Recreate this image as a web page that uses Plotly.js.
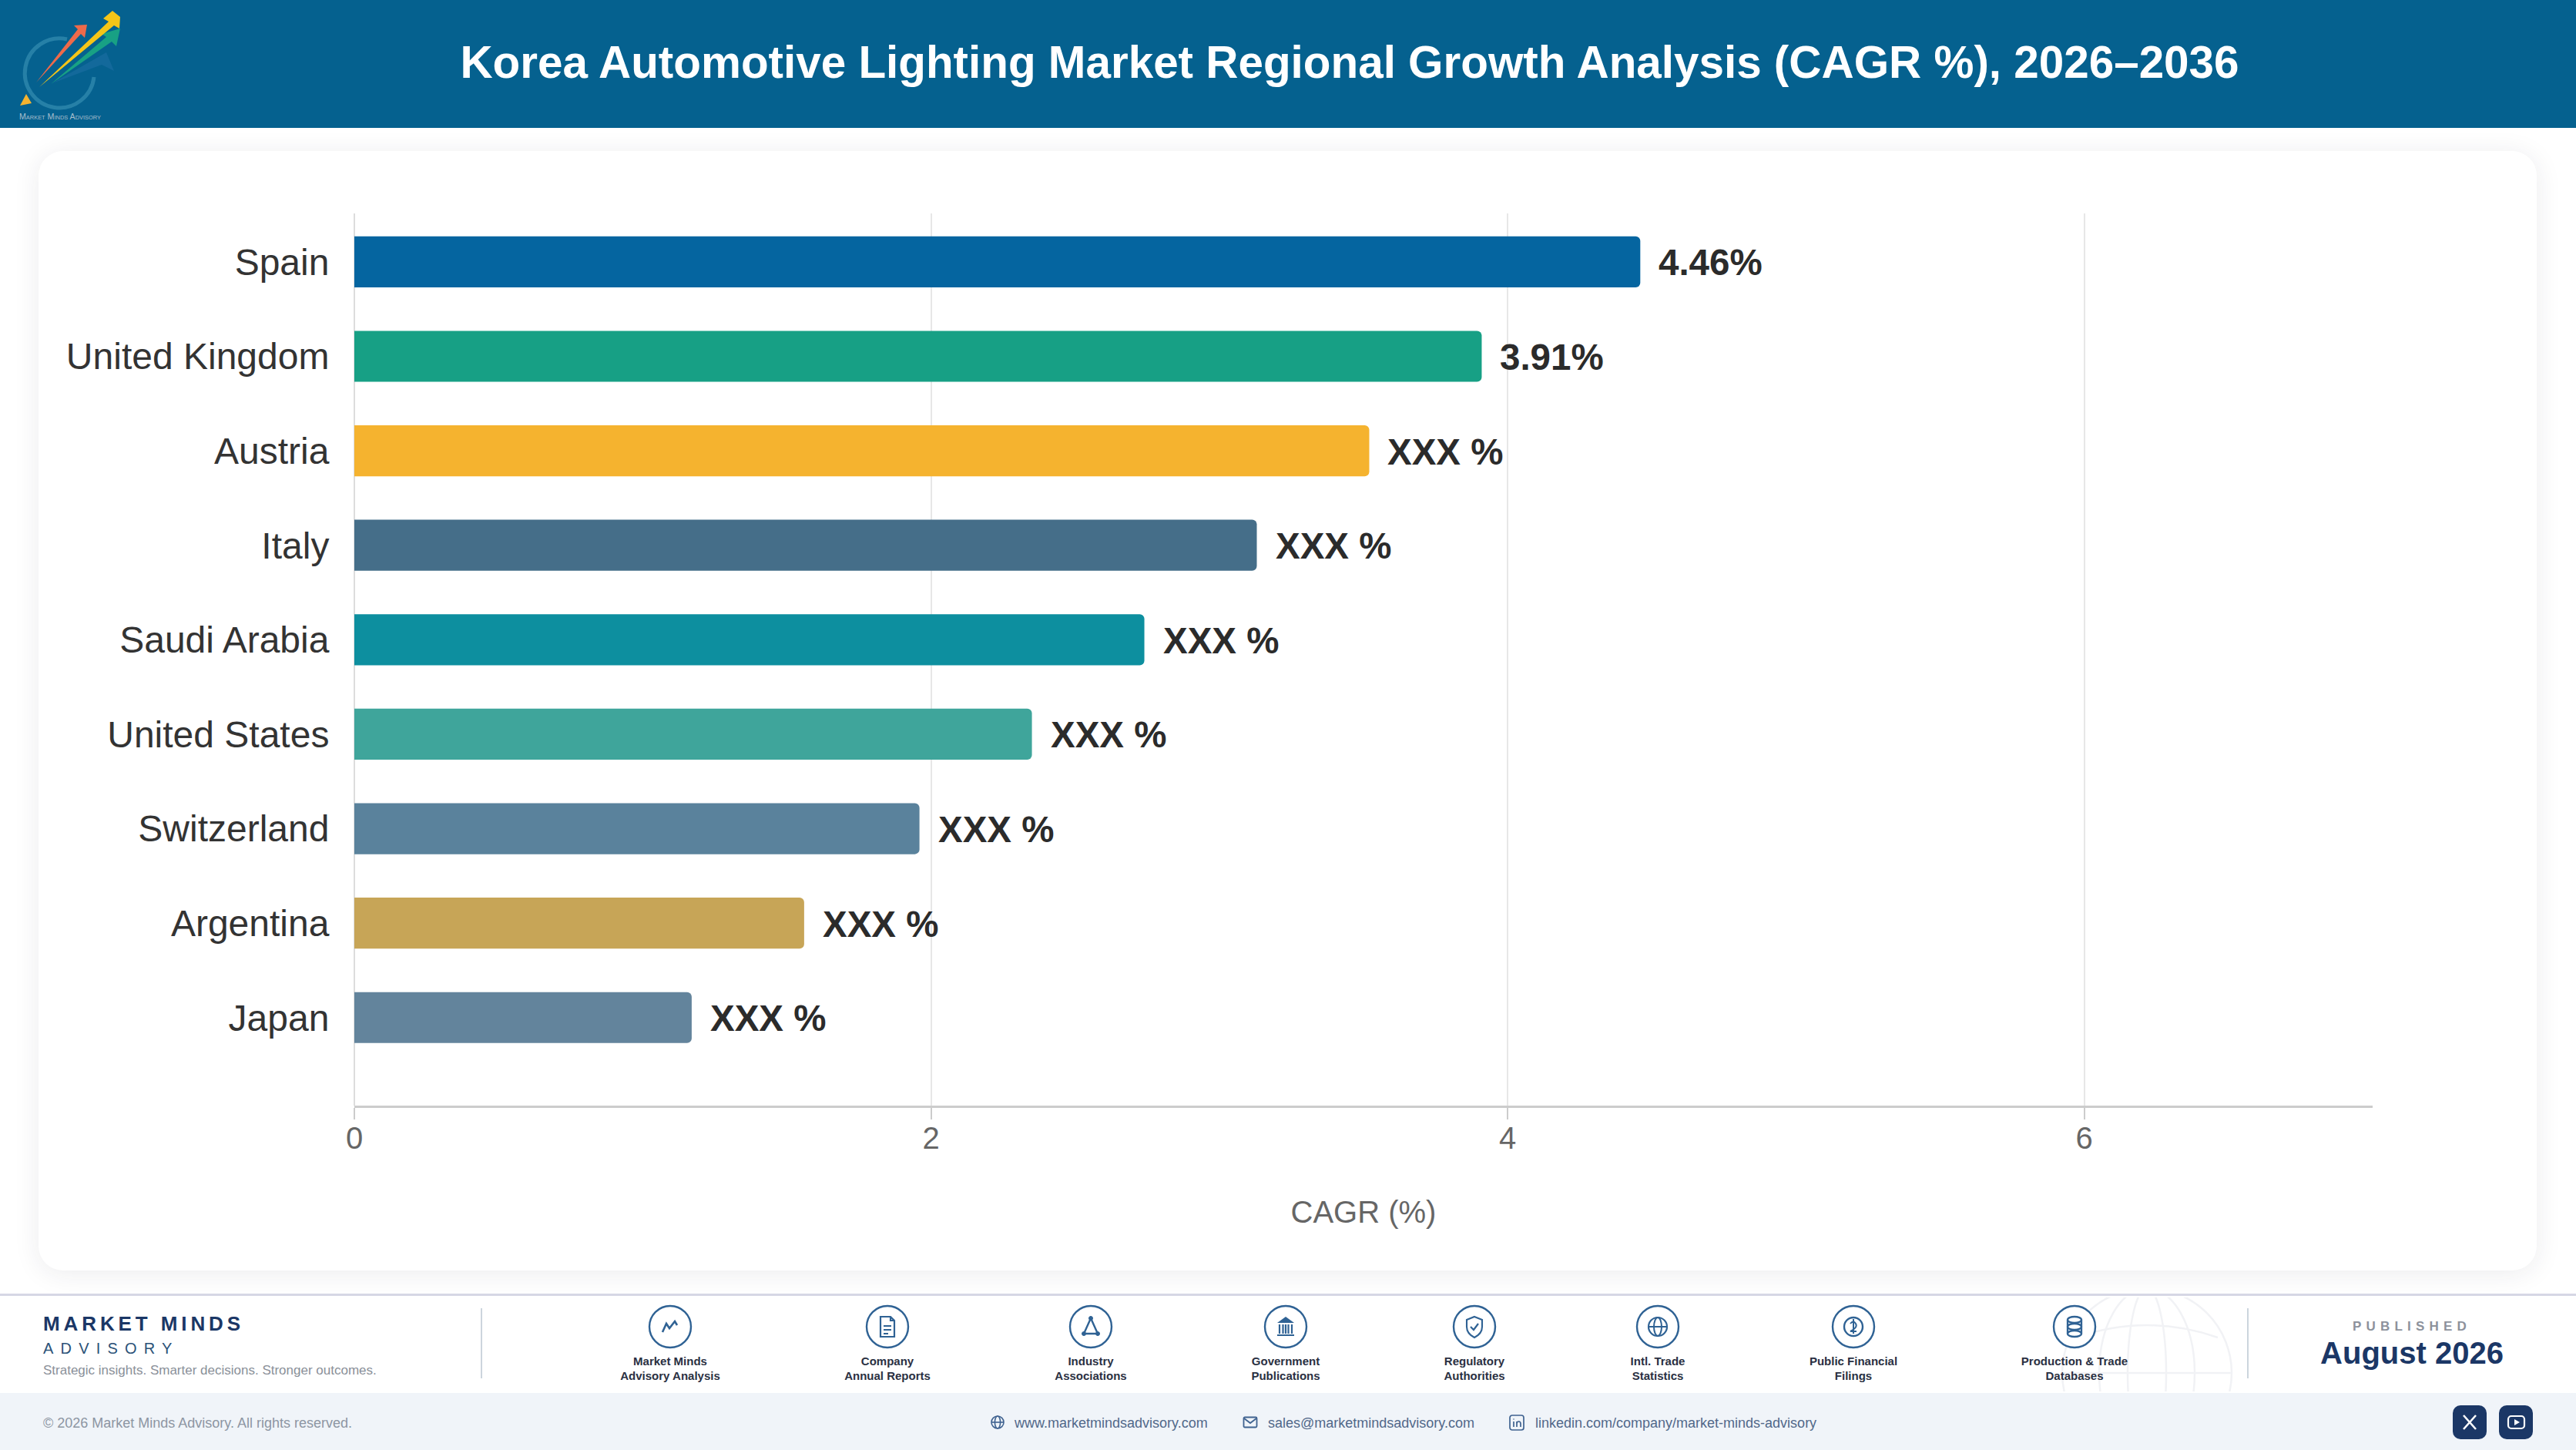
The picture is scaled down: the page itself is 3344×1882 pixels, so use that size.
<!DOCTYPE html>
<html><head><meta charset="utf-8">
<script src="https://cdn.plot.ly/plotly-3.0.1.min.js"></script>
<style>
html,body{margin:0;padding:0;background:#fff;width:3344px;height:1882px;overflow:hidden;font-family:"Liberation Sans",Arial,sans-serif}
.abs{position:absolute}
#head{left:0;top:0;width:3344px;height:166px;background:#05618f}
#card{left:50px;top:196px;width:3243px;height:1453px;background:#fff;border-radius:32px;box-shadow:0 4px 34px rgba(30,40,60,.085)}
#band{left:0;top:1679px;width:3344px;height:126px;background:#fff;border-top:3px solid #d6d7e5;border-bottom:3px solid #d6d7e5}
#foot{left:0;top:1808px;width:3344px;height:74px;background:#f0f4f9}
.t{position:absolute;white-space:nowrap;line-height:1}
.c{transform:translateX(-50%);text-align:center}
.srcl{font-weight:700;font-size:15px;color:#2a3042;line-height:18.5px;white-space:nowrap;position:absolute;transform:translateX(-50%);text-align:center;top:1758px}
.ic{position:absolute;top:1693px;width:58px;height:58px;transform:translateX(-50%)}
.div{position:absolute;width:2px;top:1698px;height:91px;background:#ccd5dd}
#plot{left:0;top:0;width:3344px;height:1882px}
</style></head><body>
<div id="head" class="abs"></div>
<div id="card" class="abs"></div>
<div id="band" class="abs"></div>
<div id="foot" class="abs"></div>
<svg class="abs" style="left:0;top:0" width="180" height="166" viewBox="0 0 180 166">
 <path d="M87 51 A45 45 0 1 0 122 100" fill="none" stroke="#2d86ab" stroke-width="5" opacity=".85"/>
 <polygon points="68,108 138,68 148,92 132,84" fill="#1c6ea4" opacity=".6"/>
 <polygon points="66,109 138,48 132,44 156,37 151,60 145,54" fill="#18a184"/>
 <polygon points="51,113 141,28 134,24 146,14 156,22 155,37 148,33" fill="#f5c518"/>
 <polygon points="47,107 101,38 96,33 113,32 110,49 105,44" fill="#ee6a4a"/>
 <polygon points="34,122 41,134 26,137" fill="#f5b32f"/>
 <text x="25" y="155" font-size="10" fill="#a9bfcd" font-family="Liberation Sans" textLength="106" lengthAdjust="spacingAndGlyphs" style="font-variant:small-caps">Market Minds Advisory</text>
</svg>
<svg class="abs" style="left:2660px;top:1684px" width="250" height="122" viewBox="0 0 250 122" fill="none" stroke="#f1f2f5" stroke-width="2.5">
 <circle cx="127" cy="98" r="110"/><ellipse cx="127" cy="98" rx="62" ry="110"/><ellipse cx="127" cy="98" rx="25" ry="110"/>
 <path d="M17 98H237M35 52Q127 20 219 52"/>
</svg>
<div class="t" style="left:56px;top:1703px;font:700 26px 'Liberation Sans';letter-spacing:4.9px;color:#1b3766">MARKET MINDS</div>
<div class="t" style="left:56px;top:1739px;font:400 20px 'Liberation Sans';letter-spacing:9.2px;color:#2b5278">ADVISORY</div>
<div class="t" style="left:56px;top:1769px;font:400 17px 'Liberation Sans';color:#8a9099">Strategic insights. Smarter decisions. Stronger outcomes.</div>
<div class="div" style="left:624px"></div>
<div class="div" style="left:2917px"></div>
<div id="sources"></div>
<div class="t c" style="left:3131px;top:1712px;font:700 17px 'Liberation Sans';letter-spacing:6.2px;color:#8d929c">PUBLISHED</div>
<div class="t c" style="left:3131px;top:1734px;font:700 40px 'Liberation Sans';color:#1b3766">August 2026</div>
<div class="t" style="left:56px;top:1837px;font:400 18px 'Liberation Sans';color:#8d96a3">© 2026 Market Minds Advisory. All rights reserved.</div>
<svg class="abs" style="left:1285px;top:1836px" width="20" height="20" viewBox="0 0 20 20" fill="none" stroke="#3f6290" stroke-width="1.6"><circle cx="10" cy="10" r="8"/><ellipse cx="10" cy="10" rx="3.6" ry="8"/><path d="M2 10H18"/></svg>
<div class="t" style="left:1317px;top:1837px;font:400 18px 'Liberation Sans';color:#51688a">www.marketmindsadvisory.com</div>
<svg class="abs" style="left:1613px;top:1836px" width="20" height="20" viewBox="0 0 20 20" fill="none" stroke="#3f6290" stroke-width="1.8"><rect x="1.5" y="3.5" width="17" height="13" rx="1.5"/><path d="M2 5L10 11L18 5"/></svg>
<div class="t" style="left:1646px;top:1837px;font:400 18px 'Liberation Sans';color:#51688a">sales@marketmindsadvisory.com</div>
<svg class="abs" style="left:1959px;top:1836px" width="20" height="21" viewBox="0 0 20 21" fill="none" stroke="#3f6290" stroke-width="1.7"><rect x="1" y="1" width="18" height="19" rx="3"/><path d="M6 9V16M6 5.5V6.5M10 16V9M10 12Q10 9 12.5 9T15 12V16"/></svg>
<div class="t" style="left:1993px;top:1837px;font:400 18px 'Liberation Sans';color:#51688a">linkedin.com/company/market-minds-advisory</div>
<svg class="abs" style="left:3184px;top:1824px" width="44" height="44" viewBox="0 0 44 44"><rect width="44" height="44" rx="10" fill="#1b3766"/><path d="M14 13L30 31M30 13L14 31" stroke="#fff" stroke-width="2.6"/></svg>
<svg class="abs" style="left:3244px;top:1824px" width="44" height="44" viewBox="0 0 44 44"><rect width="44" height="44" rx="10" fill="#1b3766"/><rect x="12" y="14" width="21" height="16" rx="4" fill="none" stroke="#fff" stroke-width="2.2"/><path d="M20 18L27 22L20 26Z" fill="#fff"/></svg>
<div id="plot" class="abs"></div>
<script>
const titleText = "Korea Automotive Lighting Market Regional Growth Analysis (CAGR %), 2026–2036";
const regions = ["Spain","United Kingdom","Austria","Italy","Saudi Arabia","United States","Switzerland","Argentina","Japan"];
const cagrValues = [4.46,3.91,3.52,3.13,2.74,2.35,1.96,1.56,1.17];
const valueLabels = ["4.46%","3.91%","XXX %","XXX %","XXX %","XXX %","XXX %","XXX %","XXX %"];
const barColors = ["#0565a0","#17a085","#f5b32f","#456e89","#0d8f9f","#3fa59b","#5a829c","#c7a557","#63849c"];
const xTicks = [0,2,4,6];
const xAxisTitle = "CAGR (%)";
const sourceLines = [["Market Minds","Advisory Analysis"],["Company","Annual Reports"],["Industry","Associations"],["Government","Publications"],["Regulatory","Authorities"],["Intl. Trade","Statistics"],["Public Financial","Filings"],["Production & Trade","Databases"]];
const sourceCenters = [870,1152,1416,1669,1914,2152,2406,2693];
const iconPaths = [
 '<path d="M19 36L24 25L28 31L35 22L38 27" fill="none" stroke-width="2.6"/>',
 '<path d="M20 16H33L38 21V42H20Z M33 16V21H38 M24 28H34 M24 33H34 M24 38H30" fill="none" stroke-width="2.2"/>',
 '<path d="M29 18L20 38H38Z" fill="none" stroke-width="2.4"/><circle cx="29" cy="18" r="2.5" fill="#2f6294"/><circle cx="20" cy="38" r="2.5" fill="#2f6294"/><circle cx="38" cy="38" r="2.5" fill="#2f6294"/>',
 '<path d="M18 24L29 16L40 24Z" fill="#2f6294" stroke="none"/><path d="M21 26V38M25.5 26V38M29 26V38M32.5 26V38M37 26V38M18 40H40" fill="none" stroke-width="2.2"/>',
 '<path d="M29 16L39 20V29Q39 38 29 43Q19 38 19 29V20Z" fill="none" stroke-width="2.1"/><path d="M24 29L28 33L34 25" fill="none" stroke-width="2.2"/>',
 '<circle cx="29" cy="29" r="12" fill="none" stroke-width="2.2"/><ellipse cx="29" cy="29" rx="5" ry="12" fill="none" stroke-width="2"/><path d="M17 29H41" fill="none" stroke-width="2"/>',
 '<circle cx="29" cy="29" r="12" fill="none" stroke-width="2.4"/><path d="M25 25Q29 20 32 25T25 35H33M29 19V38" fill="none" stroke-width="2"/>',
 '<ellipse cx="29" cy="20" rx="9" ry="4" fill="none" stroke-width="2.3"/><ellipse cx="29" cy="29" rx="9" ry="4" fill="none" stroke-width="2.3"/><ellipse cx="29" cy="38" rx="9" ry="4" fill="none" stroke-width="2.3"/><path d="M20 20V38M38 20V38" fill="none" stroke-width="2.3"/>'
];
const srcHost = document.getElementById('sources');
sourceLines.forEach((ls,i)=>{
  srcHost.insertAdjacentHTML('beforeend',
   `<svg class="ic" style="left:${sourceCenters[i]}px" viewBox="0 0 58 58" stroke="#2f6294"><circle cx="29" cy="29" r="27" fill="#fff" stroke-width="2.4"/>${iconPaths[i]}</svg>`+
   `<div class="srcl" style="left:${sourceCenters[i]}px">${ls[0].replace('&','&amp;')}<br>${ls[1]}</div>`);
});
const trace = {type:'bar',orientation:'h',y:regions,x:cagrValues,width:0.54,
  marker:{color:barColors,cornerradius:6,line:{width:0}},hoverinfo:'skip'};
const labels = regions.map((r,i)=>({xref:'x',yref:'y',x:cagrValues[i],y:r,text:valueLabels[i],showarrow:false,
  xanchor:'left',yanchor:'middle',xshift:23,yshift:-1,font:{family:'Liberation Sans',size:47.5,color:'#2b2b2b',weight:700},borderpad:0}));
const layout = {
  width:3344,height:1882,paper_bgcolor:'rgba(0,0,0,0)',plot_bgcolor:'rgba(0,0,0,0)',showlegend:false,
  margin:{l:460,r:264,t:277,b:447,autoexpand:false},
  font:{family:'Liberation Sans'},
  title:{text:titleText,x:1752/3344,xref:'container',xanchor:'center',y:1-81/1882,yref:'container',yanchor:'middle',
    font:{family:'Liberation Sans',size:58.4,color:'#fff',weight:700}},
  xaxis:{range:[0,7],tickmode:'array',tickvals:xTicks,ticktext:xTicks.map(String),showgrid:true,gridcolor:'#e7e7e7',gridwidth:2,
    zeroline:true,zerolinecolor:'#dddddd',zerolinewidth:2,showline:true,linecolor:'#cccccc',linewidth:3,
    ticks:'outside',ticklen:15,tickwidth:2,tickcolor:'#cccccc',ticklabelstandoff:-10,tickfont:{size:40,color:'#666666',family:'Liberation Sans'},
    title:{text:xAxisTitle,standoff:61,font:{size:40,color:'#666666',family:'Liberation Sans'}},automargin:false},
  yaxis:{type:'category',categoryorder:'array',categoryarray:regions,range:[8.932,-0.513],autorange:false,showgrid:false,zeroline:false,showline:false,
    ticks:'outside',ticklen:22,tickcolor:'rgba(0,0,0,0)',tickfont:{size:48,color:'#333333',family:'Liberation Sans'},automargin:false},
  annotations:labels
};
Plotly.newPlot('plot',[trace],layout,{displayModeBar:false,staticPlot:true});
</script>
</body></html>
